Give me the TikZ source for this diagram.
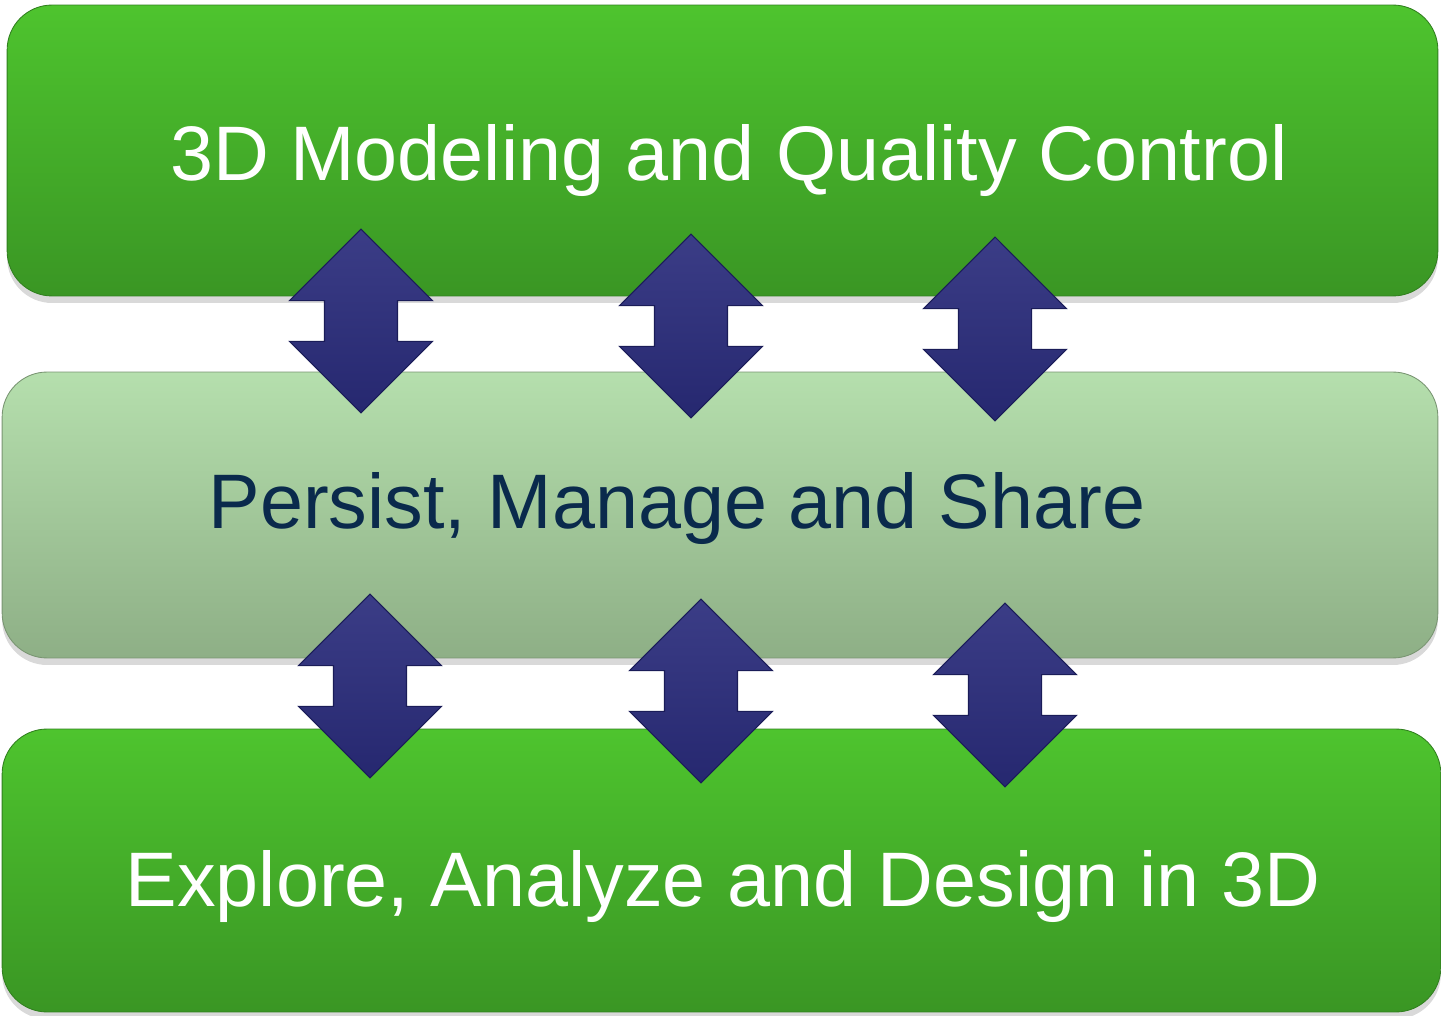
\documentclass[tikz,border=0pt]{standalone}
\usepackage{fontspec}
\setmainfont{Liberation Sans}
\usepackage{tikz}
\usetikzlibrary{shapes.arrows}
\usetikzlibrary{shadows}

\definecolor{barhi}{RGB}{78,196,46}
\definecolor{barlo}{RGB}{58,150,36}
\definecolor{midhi}{RGB}{181,223,173}
\definecolor{midlo}{RGB}{142,175,134}
\definecolor{arrowblue}{RGB}{42,44,124}
\definecolor{arrowedge}{RGB}{26,28,88}
\definecolor{midtext}{RGB}{10,42,76}

\begin{document}
\begin{tikzpicture}[x=0.02cm, y=-0.02cm, every node/.style={inner sep=0pt, outer sep=0pt},
                    layerbox/.style={rectangle, rounded corners=0.9cm,
                      drop shadow={shadow xshift=0pt, shadow yshift=-4pt, opacity=0.3}},
                    greenbar/.style={layerbox, top color=barhi, bottom color=barlo, draw=barlo!85!black, line width=0.5pt},
                    palebar/.style={layerbox, top color=midhi, bottom color=midlo, draw=midlo!85!black, line width=0.5pt},
                    bartext/.style={anchor=base, font=\fontsize{44}{52}\selectfont},
                    updown/.style={double arrow, shape border rotate=90, double arrow tip angle=90,
                      inner sep=0.72cm, minimum height=3.68cm, minimum width=2.84cm, double arrow head extend=0.7cm,
                      top color=arrowblue!92!white, bottom color=arrowblue!90!black,
                      draw=arrowedge, line width=0.6pt}]

\useasboundingbox (0,0) rectangle (1441,1016);

% the three layers
\node[greenbar, minimum width=28.62cm, minimum height=5.82cm] (model) at (722.5,150.5) {};
\node[palebar, minimum width=28.72cm, minimum height=5.72cm] (store) at (720,515) {};
\node[greenbar, minimum width=28.78cm, minimum height=5.66cm] (explore) at (721.5,870.5) {};

\node[bartext, text=white] (modeltext) at (729,181) {3D Modeling and Quality Control};
\node[bartext, text=midtext] (storetext) at (677,529) {Persist, Manage and Share};
\node[bartext, text=white] (exploretext) at (723,906) {Explore, Analyze and Design in 3D};

% arrows between layers
\foreach \n/\x/\y in {a/361/321, b/691/326, c/995/329}
  \node[updown] (upper\n) at (\x,\y) {};
\foreach \n/\x/\y in {a/370/686, b/701/691, c/1005/695}
  \node[updown] (lower\n) at (\x,\y) {};
\end{tikzpicture}
\end{document}
